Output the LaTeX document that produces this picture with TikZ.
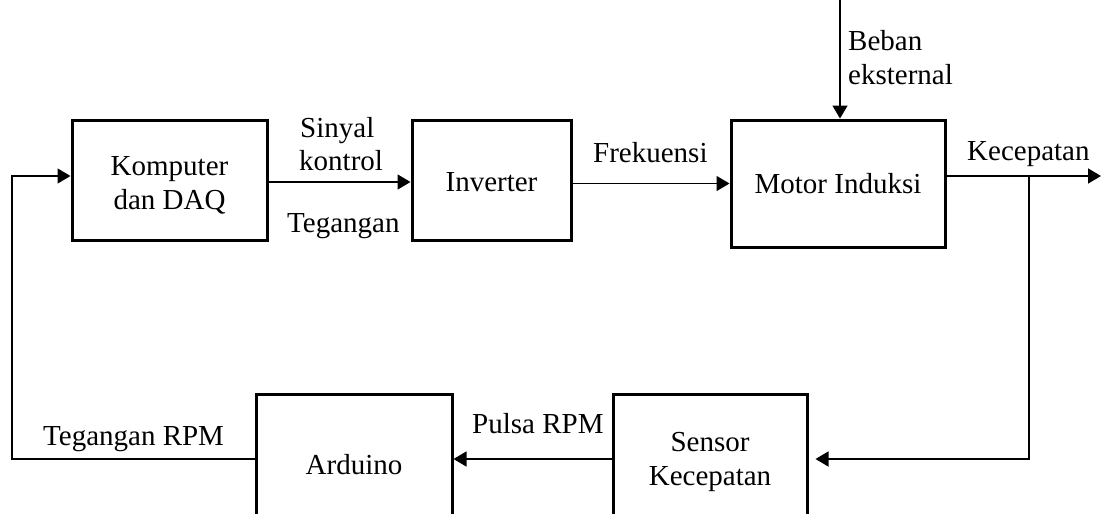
\documentclass[tikz,border=0pt]{standalone}
\usepackage{fontspec}
\setmainfont{Liberation Serif}
\usetikzlibrary{arrows.meta}
\begin{document}
\begin{tikzpicture}[x=1pt,y=-1pt,
  box/.style={draw,line width=3pt,inner sep=0pt},
  txt/.style={inner sep=0pt,align=center,font=\fontsize{29}{34}\selectfont},
  lbl/.style={inner sep=0pt,anchor=base west,font=\fontsize{29}{34}\selectfont},
  conn/.style={line width=1.5pt},
  arr/.style={conn,-{Triangle[length=13pt,width=15pt]}}]
\useasboundingbox (0,0) rectangle (1101,514);
\clip (0,0) rectangle (1101,514);

% blocks
\node[box,minimum width=195pt,minimum height=120pt] (komp) at (169.5,180) {};
\node[box,minimum width=159pt,minimum height=120pt] (inv)  at (491.5,180) {};
\node[box,minimum width=214pt,minimum height=127pt] (mot)  at (838,183.5) {};
\node[box,minimum width=196pt,minimum height=130pt] (ard)  at (354,459) {};
\node[box,minimum width=194pt,minimum height=130pt] (sen)  at (710,459) {};

% block texts
\node[txt] (kompT) at (169.5,185) {Komputer\\dan DAQ};
\node[txt,anchor=base] (invT) at (491.5,191) {Inverter};
\node[txt,anchor=base] (motT) at (838,193) {Motor Induksi};
\node[txt,anchor=base] (ardT) at (354,474) {Arduino};
\node[txt] (senT) at (710,462) {Sensor\\Kecepatan};

% signal labels
\node[lbl] (sin1) at (300,137) {Sinyal};
\node[lbl] (sin2) at (299,170) {kontrol};
\node[lbl] (teg)  at (287,232) {Tegangan};
\node[lbl] (frek) at (593,162) {Frekuensi};
\node[lbl] (kec)  at (967,160) {Kecepatan};
\node[lbl] (beb1) at (848,50)  {Beban};
\node[lbl] (beb2) at (848,84)  {eksternal};
\node[lbl] (tegR) at (43,445)  {Tegangan RPM};
\node[lbl] (puls) at (472,433) {Pulsa RPM};

% free ends and corners
\coordinate (load) at (840,0);
\coordinate (out)  at (1101,176);
\coordinate (br)   at (1029,176);
\coordinate (fb)   at (12,459);

% forward path
\draw[arr] ([yshift=-2pt]komp.east) -- ([yshift=-2pt]inv.west);
\draw[arr] (inv.east |- mot.west) -- (mot.west);
\draw[arr] (load) -- (load |- mot.north);
\draw[arr] ([yshift=7.5pt]mot.east) -- (out);

% feedback path
\draw[arr] (br) |- ([xshift=7pt]sen.east);
\draw[arr] (sen.west) -- (ard.east);
\draw[arr] (ard.west) -- (fb) |- ([yshift=4pt]komp.west);
\end{tikzpicture}
\end{document}
